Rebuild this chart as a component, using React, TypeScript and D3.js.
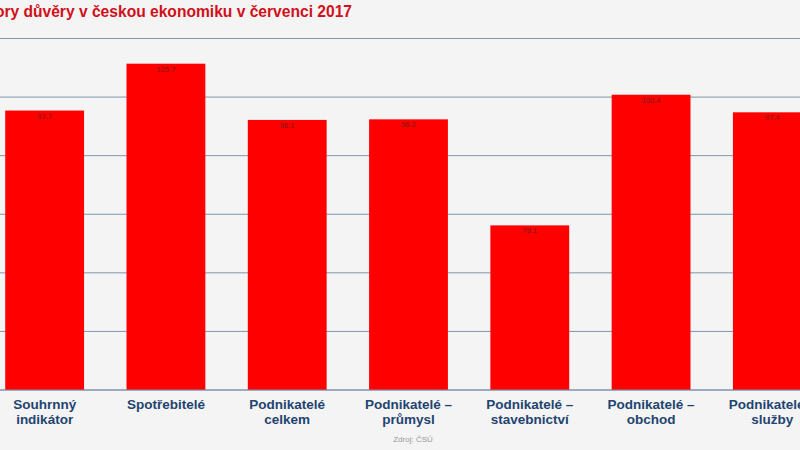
import React from "react";
import * as d3 from "d3";

const categories: string[][] = [
  ["Souhrnný", "indikátor"],
  ["Spotřebitelé"],
  ["Podnikatelé", "celkem"],
  ["Podnikatelé –", "průmysl"],
  ["Podnikatelé –", "stavebnictví"],
  ["Podnikatelé –", "obchod"],
  ["Podnikatelé –", "služby"],
];
const values: number[] = [97.7, 105.7, 96.1, 96.2, 78.1, 100.4, 97.4];
const yTicks: number[] = [50, 60, 70, 80, 90, 100, 110];
const title = "Indikátory důvěry v českou ekonomiku v červenci 2017";
const source = "Zdroj: ČSÚ";

export default function App() {
  const W = 800;
  const H = 450;
  const ids = categories.map((_, i) => String(i));
  const x = d3.scaleBand<string>().domain(ids).range([-16, 833]).paddingInner(0.35).paddingOuter(0.175);
  const y = d3.scaleLinear().domain([50, 110]).range([390, 38.5]);
  const font = "'Liberation Sans', Arial, sans-serif";
  const fmt = (v: number) => v.toFixed(1);
  return (
    <svg width={W} height={H} style={{ position: "fixed", left: 0, top: 0, background: "#f4f4f4" }} fontFamily={font}>
      <rect x={0} y={0} width={W} height={H} fill="#f4f4f4" />
      <text x={352} y={17} textAnchor="end" fontSize={15.6} fontWeight="bold" fill="#d0101a">
        {title}
      </text>
      {yTicks.map((t) => (
        <line key={t} x1={0} x2={W} y1={y(t)} y2={y(t)} stroke="#7f95ad" strokeWidth={1} />
      ))}
      {values.map((v, i) => (
        <g key={i}>
          <rect x={x(String(i))} y={y(v)} width={x.bandwidth()} height={y(50) - y(v)} fill="#ff0000" />
          <text
            x={(x(String(i)) as number) + x.bandwidth() / 2}
            y={y(v) + 8}
            textAnchor="middle"
            fontSize={7.5}
            fill="#7a1a1a"
          >
            {fmt(v)}
          </text>
        </g>
      ))}
      <line x1={0} x2={W} y1={y(50)} y2={y(50)} stroke="#7f95ad" strokeWidth={1} />
      {categories.map((lines, i) => (
        <text
          key={i}
          x={(x(String(i)) as number) + x.bandwidth() / 2}
          y={409}
          textAnchor="middle"
          fontSize={13.5}
          fontWeight="bold"
          fill="#1f4470"
        >
          {lines.map((l, j) => (
            <tspan key={j} x={(x(String(i)) as number) + x.bandwidth() / 2} dy={j === 0 ? 0 : 15}>
              {l}
            </tspan>
          ))}
        </text>
      ))}
      <text x={413} y={442} textAnchor="middle" fontSize={8} fill="#999">
        {source}
      </text>
    </svg>
  );
}
